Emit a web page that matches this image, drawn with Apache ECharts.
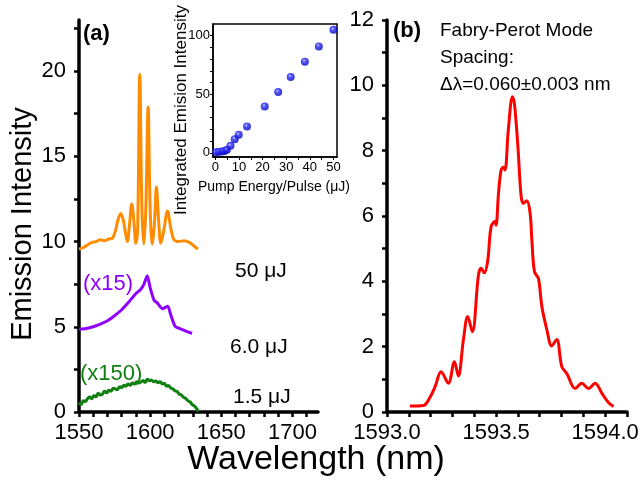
<!DOCTYPE html>
<html>
<head>
<meta charset="utf-8">
<script src="https://cdn.jsdelivr.net/npm/echarts@6/dist/echarts.min.js"></script>
<style>
    html,body{margin:0;padding:0;background:#fff;}
    #chart{width:638px;height:479px;}
</style>
</head>
<body>
<div id="chart"></div>
<script>
    // panel (a) spectra, x in nm
    const wlOrange=[1550,1553,1556,1559,1562,1565,1568,1571,1573.5,1575.5,1577.5,1579.4,1581,1582.5,1584,1585.5,1587.1,1588.6,1590,1591.2,1592.7,1594.2,1595.6,1597,1598.6,1600,1601.5,1603,1604.4,1606,1607.5,1609.5,1612.2,1614.5,1616.8,1620,1624,1627.5,1630,1633.5];
    const orange=[9.55,9.65,9.8,9.95,10.0,10.1,10.05,10.15,10.2,10.6,11.3,11.65,11.3,10.6,10.0,11.0,12.2,11.2,9.9,10.6,19.8,12.0,9.85,12.0,17.9,12.0,9.85,11.0,13.2,11.2,9.9,10.6,11.8,10.8,10.1,10.0,10.05,9.95,9.8,9.55];

    const wlPurple=[1550,1555,1560,1565,1570,1575,1580,1585,1590,1593.5,1595.5,1598,1600,1602.8,1605,1608.7,1612.4,1614.5,1617.6,1621.8,1625,1629.5];
    const purple=[4.85,4.9,5.0,5.15,5.35,5.65,6.0,6.45,6.95,7.2,7.47,8.0,7.3,6.55,6.4,6.06,6.2,5.7,5.02,4.86,4.75,4.62];

    const wlGreen=[1550,1551.5,1553,1554.5,1556,1557.5,1559,1560.5,1562,1563.5,1565,1566.5,1568,1569.5,1571,1572.5,1574,1575.5,1577,1578.5,1580,1581.5,1583,1584.5,1586,1587.5,1589,1590.5,1592,1593.5,1595,1596.5,1598,1599.5,1601,1602.5,1604,1605.5,1607,1608.5,1610,1611.5,1613,1614.5,1616,1617.5,1619,1620.5,1622,1623.5,1625,1626.5,1628,1629.5,1631,1632.5,1634];
    const green=[0.55,0.42,0.68,0.6,0.78,0.9,0.76,0.98,0.88,1.12,0.98,1.05,1.25,1.1,1.3,1.2,1.4,1.36,1.3,1.5,1.42,1.58,1.5,1.66,1.54,1.72,1.62,1.8,1.7,1.76,1.86,1.72,1.94,1.82,1.88,1.76,1.84,1.7,1.8,1.64,1.7,1.5,1.56,1.4,1.36,1.24,1.2,1.04,1.0,0.86,0.8,0.66,0.6,0.44,0.36,0.22,0.04];

    // panel (b) single spectrum
    const wlRed=[1593.105,1593.167,1593.197,1593.22,1593.248,1593.281,1593.309,1593.327,1593.35,1593.37,1593.391,1593.419,1593.431,1593.446,1593.462,1593.477,1593.495,1593.5,1593.511,1593.523,1593.534,1593.541,1593.556,1593.575,1593.584,1593.6,1593.615,1593.626,1593.641,1593.656,1593.664,1593.676,1593.694,1593.71,1593.733,1593.755,1593.778,1593.801,1593.824,1593.862,1593.893,1593.923,1593.954,1593.985,1594.015,1594.038];
    const red=[0.18,0.2,0.45,0.77,1.23,0.88,1.54,1.1,2.2,2.92,2.46,4.19,4.4,4.26,4.65,5.67,5.83,5.72,6.69,7.41,7.49,7.41,8.63,9.65,9.45,8.12,6.59,6.39,6.47,6.08,5.26,4.29,4.09,3.22,2.51,2.02,2.22,1.39,1.18,0.72,0.88,0.72,0.88,0.57,0.29,0.17];

    // inset
    const pumpEnergy=[0.3,1.5,2.8,3.9,4.9,6.4,8.2,9.9,13.4,20.9,26.6,31.9,37.9,43.8,50];
    const integrated=[0.5,0.9,1.3,1.7,2.6,6,11.7,15.4,22.5,39.6,51.9,64.7,77.8,90.9,105];

    // ticks / labels
    const xTicksA=[1550,1560,1570,1580,1590,1600,1610,1620,1630,1640,1650,1660,1670,1680,1690,1700,1710];
    const xLabelsA=[1550,1600,1650,1700];
    const yTicksA=[0,2.5,5,7.5,10,12.5,15,17.5,20,22.5];
    const yLabelsA=[0,5,10,15,20];
    const xTicksB=[1593.0,1593.1,1593.2,1593.3,1593.4,1593.5,1593.6,1593.7,1593.8,1593.9,1594.0,1594.1];
    const xLabelsB=[1593.0,1593.5,1594.0];
    const yTicksB=[0,1,2,3,4,5,6,7,8,9,10,11,12];
    const yLabelsB=[0,2,4,6,8,10,12];
    const xTicksIn=[0,5,10,15,20,25,30,35,40,45,50];
    const xLabelsIn=[0,10,20,30,40,50];
    const yTicksIn=[0,10,20,30,40,50,60,70,80,90,100];
    const yLabelsIn=[0,50,100];

    const FONT="'Liberation Sans', Arial, sans-serif";
    const pairs=(xs,ys)=>xs.map((x,i)=>[x,ys[i]]);

    function mainAxis(gridIndex,min,max,ticks,labels,fmt,isY){
        return {
            type:'value',gridIndex:gridIndex,min:min,max:max,
            splitLine:{show:false},
            axisLine:{show:true,onZero:false,lineStyle:{color:'#000',width:3.5}},
            axisTick:{show:true,customValues:ticks,length:5,lineStyle:{color:'#000',width:2.5}},
            axisLabel:{customValues:labels,color:'#000',fontSize:22,fontFamily:FONT,
                margin:isY?13:10,formatter:fmt||(v=>String(v))}
        };
    }
    function insetAxis(min,max,ticks,labels,isY){
        return {
            type:'value',gridIndex:2,min:min,max:max,
            splitLine:{show:false},
            axisLine:{show:true,onZero:false,lineStyle:{color:'#000',width:1.5}},
            axisTick:{show:true,customValues:ticks,length:3,lineStyle:{color:'#000',width:1}},
            axisLabel:{customValues:labels,color:'#000',fontSize:13,fontFamily:FONT,margin:isY?3:4}
        };
    }

    const chart=echarts.init(document.getElementById('chart'),null,{renderer:'canvas'});
    const option={
        backgroundColor:'#fff',
        animation:false,
        grid:[
            {left:79,top:20,width:239,height:392,outerBoundsMode:'none'},
            {left:387,top:20,width:240,height:392,outerBoundsMode:'none'},
            {left:213,top:24,width:124,height:133,show:true,borderColor:'#000',borderWidth:1.5,outerBoundsMode:'none'}
        ],
        xAxis:[
            mainAxis(0,1550,1718,xTicksA,xLabelsA,null,false),
            mainAxis(1,1593.0,1594.1,xTicksB,xLabelsB,v=>v.toFixed(1),false),
            insetAxis(-1,51.5,xTicksIn,xLabelsIn,false)
        ],
        yAxis:[
            mainAxis(0,0,23,yTicksA,yLabelsA,null,true),
            mainAxis(1,0,12,yTicksB,yLabelsB,null,true),
            insetAxis(-3.5,110,yTicksIn,yLabelsIn,true)
        ],
        series:[
            {name:'50 uJ',type:'line',xAxisIndex:0,yAxisIndex:0,data:pairs(wlOrange,orange),
                smooth:0.35,showSymbol:false,lineStyle:{color:'#FF8C00',width:3}},
            {name:'6.0 uJ',type:'line',xAxisIndex:0,yAxisIndex:0,data:pairs(wlPurple,purple),
                smooth:0.2,showSymbol:false,lineStyle:{color:'#8F00FF',width:3}},
            {name:'1.5 uJ',type:'line',xAxisIndex:0,yAxisIndex:0,data:pairs(wlGreen,green),
                smooth:false,showSymbol:false,lineStyle:{color:'#108010',width:3}},
            {name:'FP',type:'line',xAxisIndex:1,yAxisIndex:1,data:pairs(wlRed,red),
                smooth:0.35,showSymbol:false,lineStyle:{color:'#FF0000',width:3}},
            {name:'inset',type:'scatter',xAxisIndex:2,yAxisIndex:2,data:pairs(pumpEnergy,integrated),
                symbolSize:8,
                itemStyle:{color:{type:'radial',x:0.4,y:0.35,r:0.7,colorStops:[
                    {offset:0,color:'#c8c8ff'},{offset:0.3,color:'#2a2aff'},{offset:1,color:'#0000b0'}]}}}
        ],
        graphic:[
            {type:'text',x:23,y:224,rotation:Math.PI/2,style:{text:'Emission Intensity',fontSize:29,fontFamily:FONT,fill:'#000',textAlign:'center',textVerticalAlign:'middle'}},
            {type:'text',x:316,y:460,style:{text:'Wavelength (nm)',fontSize:34,fontFamily:FONT,fill:'#000',textAlign:'center',textVerticalAlign:'middle'}},
            {type:'text',x:83,y:34,style:{text:'(a)',fontSize:22,fontWeight:'bold',fontFamily:FONT,fill:'#000',textVerticalAlign:'middle'}},
            {type:'text',x:393,y:31,style:{text:'(b)',fontSize:22,fontWeight:'bold',fontFamily:FONT,fill:'#000',textVerticalAlign:'middle'}},
            {type:'text',x:440,y:31,style:{text:'Fabry-Perot Mode',fontSize:19,fontFamily:FONT,fill:'#000',textVerticalAlign:'middle'}},
            {type:'text',x:440,y:58,style:{text:'Spacing:',fontSize:19,fontFamily:FONT,fill:'#000',textVerticalAlign:'middle'}},
            {type:'text',x:440,y:85,style:{text:'\u0394\u03bb=0.060\u00b10.003 nm',fontSize:19,fontFamily:FONT,fill:'#000',textVerticalAlign:'middle'}},
            {type:'text',x:235,y:271,style:{text:'50 \u03bcJ',fontSize:21,fontFamily:FONT,fill:'#000',textVerticalAlign:'middle'}},
            {type:'text',x:230,y:347,style:{text:'6.0 \u03bcJ',fontSize:21,fontFamily:FONT,fill:'#000',textVerticalAlign:'middle'}},
            {type:'text',x:233,y:397,style:{text:'1.5 \u03bcJ',fontSize:21,fontFamily:FONT,fill:'#000',textVerticalAlign:'middle'}},
            {type:'text',x:83,y:284,style:{text:'(x15)',fontSize:22,fontFamily:FONT,fill:'#8F00FF',textVerticalAlign:'middle'}},
            {type:'text',x:80,y:374,style:{text:'(x150)',fontSize:22,fontFamily:FONT,fill:'#108010',textVerticalAlign:'middle'}},
            {type:'text',x:181,y:110,rotation:Math.PI/2,style:{text:'Integrated Emision Intensity',fontSize:17,fontFamily:FONT,fill:'#000',textAlign:'center',textVerticalAlign:'middle'}},
            {type:'text',x:274,y:187,style:{text:'Pump Energy/Pulse (\u03bcJ)',fontSize:14,fontFamily:FONT,fill:'#000',textAlign:'center',textVerticalAlign:'middle'}}
        ]
    };
    chart.setOption(option);
    window.addEventListener("resize",chart.resize);
</script>
</body>
</html>
